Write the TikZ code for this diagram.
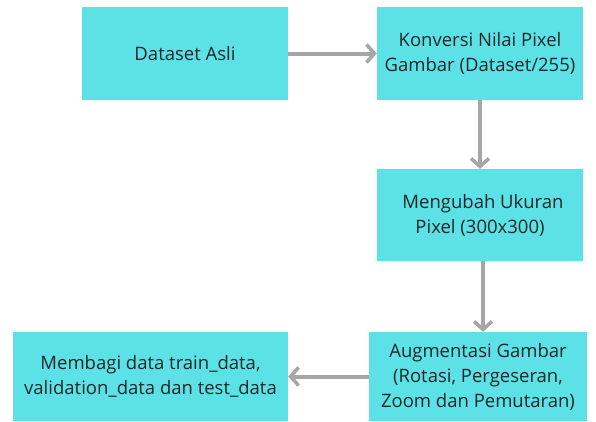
\documentclass[tikz,border=0pt]{standalone}
\usepackage{fontspec}
\setmainfont{Open Sans}
\usetikzlibrary{arrows.meta}
\definecolor{boxcyan}{RGB}{92,225,230}
\definecolor{arrowgray}{RGB}{166,166,166}
\definecolor{txt}{RGB}{30,40,40}
\begin{document}
\begin{tikzpicture}[x=1pt,y=-1pt,
  box/.style={fill=boxcyan, draw=none, inner sep=0pt, align=center, text=txt,
    font=\fontsize{18.5}{25}\selectfont},
  flow/.style={draw=arrowgray, line width=4pt,
    -{Straight Barb[length=8pt,width=18pt,line width=3.5pt]}}]
\useasboundingbox (0,0) rectangle (596,421);
\fill[white] (0,0) rectangle (596,421);
\node[box, minimum width=206pt, minimum height=93pt] (b1) at (185,53.5) {Dataset Asli};
\node[box, minimum width=206pt, minimum height=93pt] (b2) at (480,53.5) {Konversi Nilai Pixel\\Gambar (Dataset/255)};
\node[box, minimum width=206pt, minimum height=92pt] (b3) at (480,215) {\hspace*{6pt}Mengubah Ukuran\\Pixel (300x300)};
\node[box, minimum width=218pt, minimum height=89pt] (b4) at (478,376.5) {Augmentasi Gambar\\(Rotasi, Pergeseran,\\Zoom dan Pemutaran)};
\node[box, minimum width=275pt, minimum height=89pt] (b5) at (150.5,376.5) {Membagi data train\_data,\\validation\_data dan test\_data};
\draw[flow] (b1.east) -- (b2.west);
\draw[flow] (b2.south) -- (b3.north);
\draw[flow] ([xshift=3pt]b3.south) -- ([xshift=3pt]b3.south |- b4.north);
\draw[flow] (b4.west) -- (b5.east);
\end{tikzpicture}
\end{document}
